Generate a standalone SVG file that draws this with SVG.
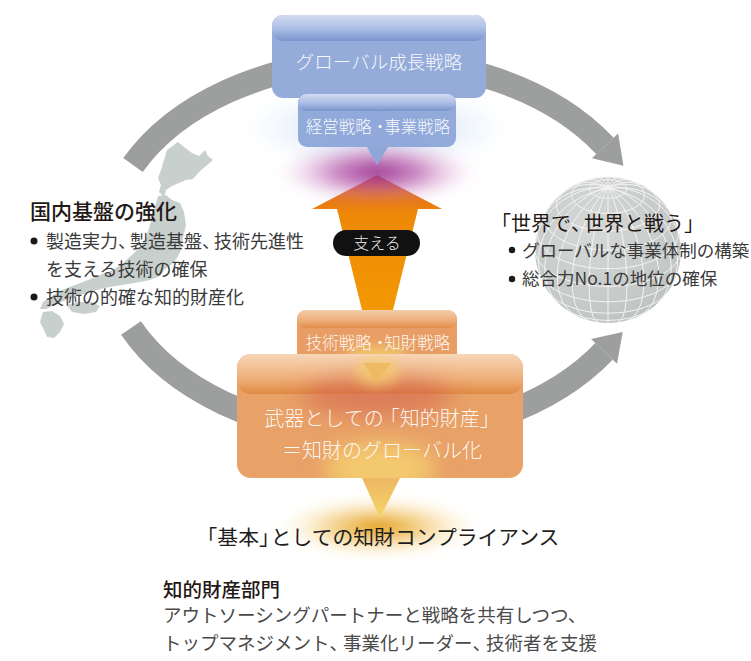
<svg xmlns="http://www.w3.org/2000/svg" width="751" height="661" viewBox="0 0 751 661">
  <defs>
    <style>
      .t{font-family:"Noto Sans CJK JP","Noto Sans",sans-serif}
      .hd{font-size:21px;fill:#231815;font-weight:500}
      .bd{font-size:18px;fill:#3a3a3a}
      .sm{font-size:17.5px;fill:#3a3a3a}
      .wt{fill:#ffffff;fill-opacity:.93;font-weight:300}
      .ring{fill:none;stroke:#9d9f9e;stroke-width:24}
      .head{fill:#9d9f9e}
      .grid{fill:none;stroke:#f3f4f3;stroke-width:1}
      .dot{fill:#1a1a1a}
    </style>
    <filter id="blur10" x="-50%" y="-50%" width="200%" height="200%"><feGaussianBlur stdDeviation="10"/></filter>
    <filter id="blur6" x="-50%" y="-50%" width="200%" height="200%"><feGaussianBlur stdDeviation="6"/></filter>
    <linearGradient id="blueGloss" x1="0" y1="0" x2="0" y2="1">
      <stop offset="0" stop-color="#d3dcf1"/>
      <stop offset=".55" stop-color="#a9bce4"/>
      <stop offset="1" stop-color="#7a93cd"/>
    </linearGradient>
    <linearGradient id="orangeGloss" x1="0" y1="0" x2="0" y2="1">
      <stop offset="0" stop-color="#f6d6b8"/>
      <stop offset=".6" stop-color="#eeb07c"/>
      <stop offset="1" stop-color="#e08a42"/>
    </linearGradient>
    <linearGradient id="arrowFill" x1="0" y1="0" x2="0" y2="1">
      <stop offset="0" stop-color="#d8561c"/>
      <stop offset=".25" stop-color="#ee8808"/>
      <stop offset="1" stop-color="#f39c00"/>
    </linearGradient>
    <linearGradient id="pointerY" x1="0" y1="0" x2="0" y2="1">
      <stop offset="0" stop-color="#eeb765"/>
      <stop offset="1" stop-color="#f4d565"/>
    </linearGradient>
    <radialGradient id="globeFill" cx=".4" cy=".35" r=".7">
      <stop offset="0" stop-color="#d6d9d7"/>
      <stop offset=".8" stop-color="#c4c8c6"/>
      <stop offset="1" stop-color="#bcc0be"/>
    </radialGradient>
    <radialGradient id="glowY">
      <stop offset="0" stop-color="#dc9200" stop-opacity=".95"/>
      <stop offset=".45" stop-color="#eeb440" stop-opacity=".6"/>
      <stop offset="1" stop-color="#fbe6b0" stop-opacity="0"/>
    </radialGradient>
    <radialGradient id="glowM">
      <stop offset="0" stop-color="#932a88" stop-opacity=".95"/>
      <stop offset=".45" stop-color="#b552a8" stop-opacity=".65"/>
      <stop offset="1" stop-color="#e8c0e4" stop-opacity="0"/>
    </radialGradient>
    <radialGradient id="glowB">
      <stop offset="0" stop-color="#9dbde6" stop-opacity=".75"/>
      <stop offset="1" stop-color="#cfe0f4" stop-opacity="0"/>
    </radialGradient>
    <clipPath id="bigClip"><rect x="237" y="354" width="286" height="124" rx="14"/></clipPath>
  </defs>

  <rect width="751" height="661" fill="#ffffff"/>

  <!-- cycle connectors -->
  <g id="connectors">
    <path class="ring" d="M133,165 A272,187.7 0 0 1 605,146"/>
    <polygon class="head" points="618.1,133.6 623.5,165.7 591.9,158.3"/>
    <path class="ring" d="M131,328 A272,187.7 0 0 0 604,351.4"/>
    <polygon class="head" points="617,363.8 622.7,331.9 591,339"/>
  </g>

  <!-- map of Japan -->
  <g id="japan" fill="#c8d0cd">
    <path d="M178,142 L184,147 L192,153 L199,156 L205,150 L208,156 L213,160 L206,166 L199,172 L193,179 L186,180 L179,183 L172,186 L166,190 L164,197 L159,192 L161,185 L158,178 L161,170 L164,160 L167,150 Z"/>
    <path d="M158,196 L166,195 L172,200 L180,203 L184,212 L186,225 L183,238 L181,250 L177,258 L172,264 L165,269 L160,276 L150,280 L140,282 L128,284 L116,286 L104,288 L90,292 L78,296 L66,300 L55,305 L46,309 L40,309 L43,302 L52,296 L62,290 L75,285 L88,280 L100,275 L113,270 L124,262 L132,255 L140,247 L146,238 L149,228 L152,218 L155,207 Z"/>
    <path d="M67,305 L78,302 L92,302 L100,306 L96,312 L84,314 L72,312 Z"/>
    <path d="M43,312 L52,311 L60,316 L64,324 L60,332 L54,338 L47,337 L44,330 L40,322 Z"/>
  </g>

  <!-- globe -->
  <g id="globe">
    <circle cx="608" cy="250" r="73" fill="url(#globeFill)"/>
    <g class="grid">
      <path d="M535,250 A73,36.5 0 0 0 681,250"/>
      <path d="M538.3,228.2 A70.5,35.26 0 1 0 677.7,228.2"/>
      <path d="M548.4,207.9 A63.2,31.6 0 1 0 667.6,207.9"/>
      <path d="M565.9,190.4 A51.6,25.8 0 1 0 650.1,190.4"/>
      <ellipse cx="608" cy="195.25" rx="36.5" ry="18.25"/>
      <ellipse cx="608" cy="188.9" rx="18.9" ry="9.45"/>
      <path d="M538.3,271.9 A70.5,35.26 0 0 0 677.7,271.9"/>
      <path d="M548.4,292.1 A63.2,31.6 0 0 0 667.6,292.1"/>
      <path d="M565.9,309.6 A51.6,25.8 0 0 0 650.1,309.6"/>
      <path d="M608,177 L608,323"/>
      <path d="M598.3,177.6 A73,16.36 82.37 0 1 617.7,322.4"/>
      <path d="M587.7,179.9 A73,31.61 73.9 0 1 628.3,320.1"/>
      <path d="M575.4,184.7 A73,44.7 63.43 0 1 640.6,315.3"/>
      <path d="M560.2,194.8 A73,54.75 49.1 0 1 655.8,305.2"/>
      <path d="M543.7,215.5 A73,61.06 28.18 0 1 672.3,284.5"/>
      <path d="M535,250 A73,63.22 0 0 1 681,250"/>
      <path d="M543.7,284.5 A73,61.06 -28.18 0 1 672.3,215.5"/>
      <path d="M560.2,305.2 A73,54.75 -49.1 0 1 655.8,194.8"/>
      <path d="M575.4,315.3 A73,44.7 -63.43 0 1 640.6,184.7"/>
      <path d="M587.7,320.1 A73,31.61 -73.9 0 1 628.3,179.9"/>
      <path d="M598.3,322.4 A73,16.36 -82.37 0 1 617.7,177.6"/>
    </g>
  </g>

  <!-- soft halos -->
  <ellipse cx="377" cy="128" rx="135" ry="42" fill="url(#glowB)" filter="url(#blur6)"/>
  <ellipse cx="378" cy="527" rx="100" ry="30" fill="url(#glowY)" filter="url(#blur6)"/>

  <!-- support arrow -->
  <g id="support">
    <path d="M377,175 L442,209 L418,209 L388,330 L367,330 L337,209 L312,209 Z" fill="url(#arrowFill)"/>
  </g>
  <ellipse cx="377" cy="172" rx="100" ry="32" fill="url(#glowM)" filter="url(#blur6)"/>

  <g id="support-label">
    <rect x="333" y="230" width="87" height="26" rx="13" fill="#111111"/>
    <text class="t wt" x="377" y="249" font-size="16" text-anchor="middle">支える</text>
  </g>

  <!-- global growth strategy -->
  <g id="growth">
    <rect x="272" y="15" width="214" height="83" rx="11" fill="#95acda"/>
    <rect x="272" y="15" width="214" height="26" rx="11" fill="url(#blueGloss)"/>
    <polygon points="366,98 390,98 378,116" fill="#879fd4" fill-opacity=".7"/>
    <text class="t wt" x="379" y="69" font-size="18.5" text-anchor="middle">グローバル成長戦略</text>
  </g>

  <g id="management">
    <rect x="298" y="94" width="158" height="53" rx="9" fill="#8ea7d8" fill-opacity=".96"/>
    <rect x="298" y="94" width="158" height="17" rx="9" fill="url(#blueGloss)"/>
    <polygon points="367,147 388,147 377,165" fill="#8ea7d8"/>
    <text class="t wt" x="378" y="133" font-size="16.5" text-anchor="middle">経営戦略<tspan letter-spacing="-4">・</tspan>事業戦略</text>
  </g>

  <!-- technology strategy -->
  <g id="tech">
    <rect x="297" y="310" width="160" height="53" rx="9" fill="#e89d64"/>
    <rect x="297" y="310" width="160" height="18" rx="9" fill="url(#orangeGloss)" fill-opacity=".85"/>
    <ellipse cx="377" cy="356" rx="32" ry="10" fill="#f6d46e" fill-opacity=".75" filter="url(#blur6)"/>
    <text class="t wt" x="378" y="349" font-size="16.5" text-anchor="middle">技術戦略<tspan letter-spacing="-4">・</tspan>知財戦略</text>
  </g>

  <!-- intellectual property as a weapon -->
  <g id="weapon">
    <rect x="237" y="354" width="286" height="124" rx="14" fill="#e8a167"/>
    <rect x="237" y="354" width="286" height="40" rx="14" fill="url(#orangeGloss)"/>
    <g clip-path="url(#bigClip)">
      <ellipse cx="377" cy="396" rx="75" ry="20" fill="#d25a4a" fill-opacity=".5" filter="url(#blur10)"/>
      <ellipse cx="380" cy="468" rx="55" ry="26" fill="#f6d070" fill-opacity=".85" filter="url(#blur10)"/>
      <ellipse cx="377" cy="372" rx="22" ry="14" fill="#f6d070" fill-opacity=".7" filter="url(#blur6)"/>
    </g>
    <polygon points="363,363 391,363 377,382" fill="#efbb62"/>
    <polygon points="362,478 400,478 380,518" fill="url(#pointerY)"/>
    <text class="t wt" x="382" y="426" font-size="20" text-anchor="middle">武器としての<tspan dx="-4">「知的財産」</tspan></text>
    <text class="t wt" x="382" y="458" font-size="20" text-anchor="middle">＝知財のグローバル化</text>
  </g>

  <!-- compliance -->
  <g id="compliance">
    <text class="t" x="378" y="545" font-size="20.8" fill="#1e1e1e" text-anchor="middle">「基本<tspan letter-spacing="-9">」</tspan>としての知財コンプライアンス</text>
  </g>

  <!-- domestic base -->
  <g id="domestic">
    <text class="t hd" x="30" y="219">国内基盤の強化</text>
    <circle class="dot" cx="34" cy="241" r="3.5"/>
    <text class="t bd" x="46" y="248">製造実力<tspan letter-spacing="-6">、</tspan>製造基盤<tspan letter-spacing="-6">、</tspan>技術先進性</text>
    <text class="t bd" x="46" y="276">を支える技術の確保</text>
    <circle class="dot" cx="34" cy="297" r="3.5"/>
    <text class="t bd" x="46" y="304">技術の的確な知的財産化</text>
  </g>

  <!-- global competition -->
  <g id="world">
    <text class="t" x="491" y="231" font-size="20" fill="#231815">「世界で<tspan letter-spacing="-7">、</tspan>世界と戦う」</text>
    <circle class="dot" cx="512" cy="250" r="3.2"/>
    <text class="t sm" x="522" y="257">グローバルな事業体制の構築</text>
    <circle class="dot" cx="512" cy="279" r="3.2"/>
    <text class="t sm" x="522" y="285">総合力No.1の地位の確保</text>
  </g>

  <!-- IP department -->
  <g id="ip-dept">
    <text class="t" x="163" y="597" font-size="19.5" font-weight="500" fill="#231815">知的財産部門</text>
    <text class="t" x="163" y="622" font-size="18.5" fill="#4a4a4a">アウトソーシングパートナーと戦略を共有しつつ、</text>
    <text class="t" x="163" y="650" font-size="18.5" fill="#4a4a4a">トップマネジメント<tspan letter-spacing="-5">、</tspan>事業化リーダー<tspan letter-spacing="-5">、</tspan>技術者を支援</text>
  </g>
</svg>
